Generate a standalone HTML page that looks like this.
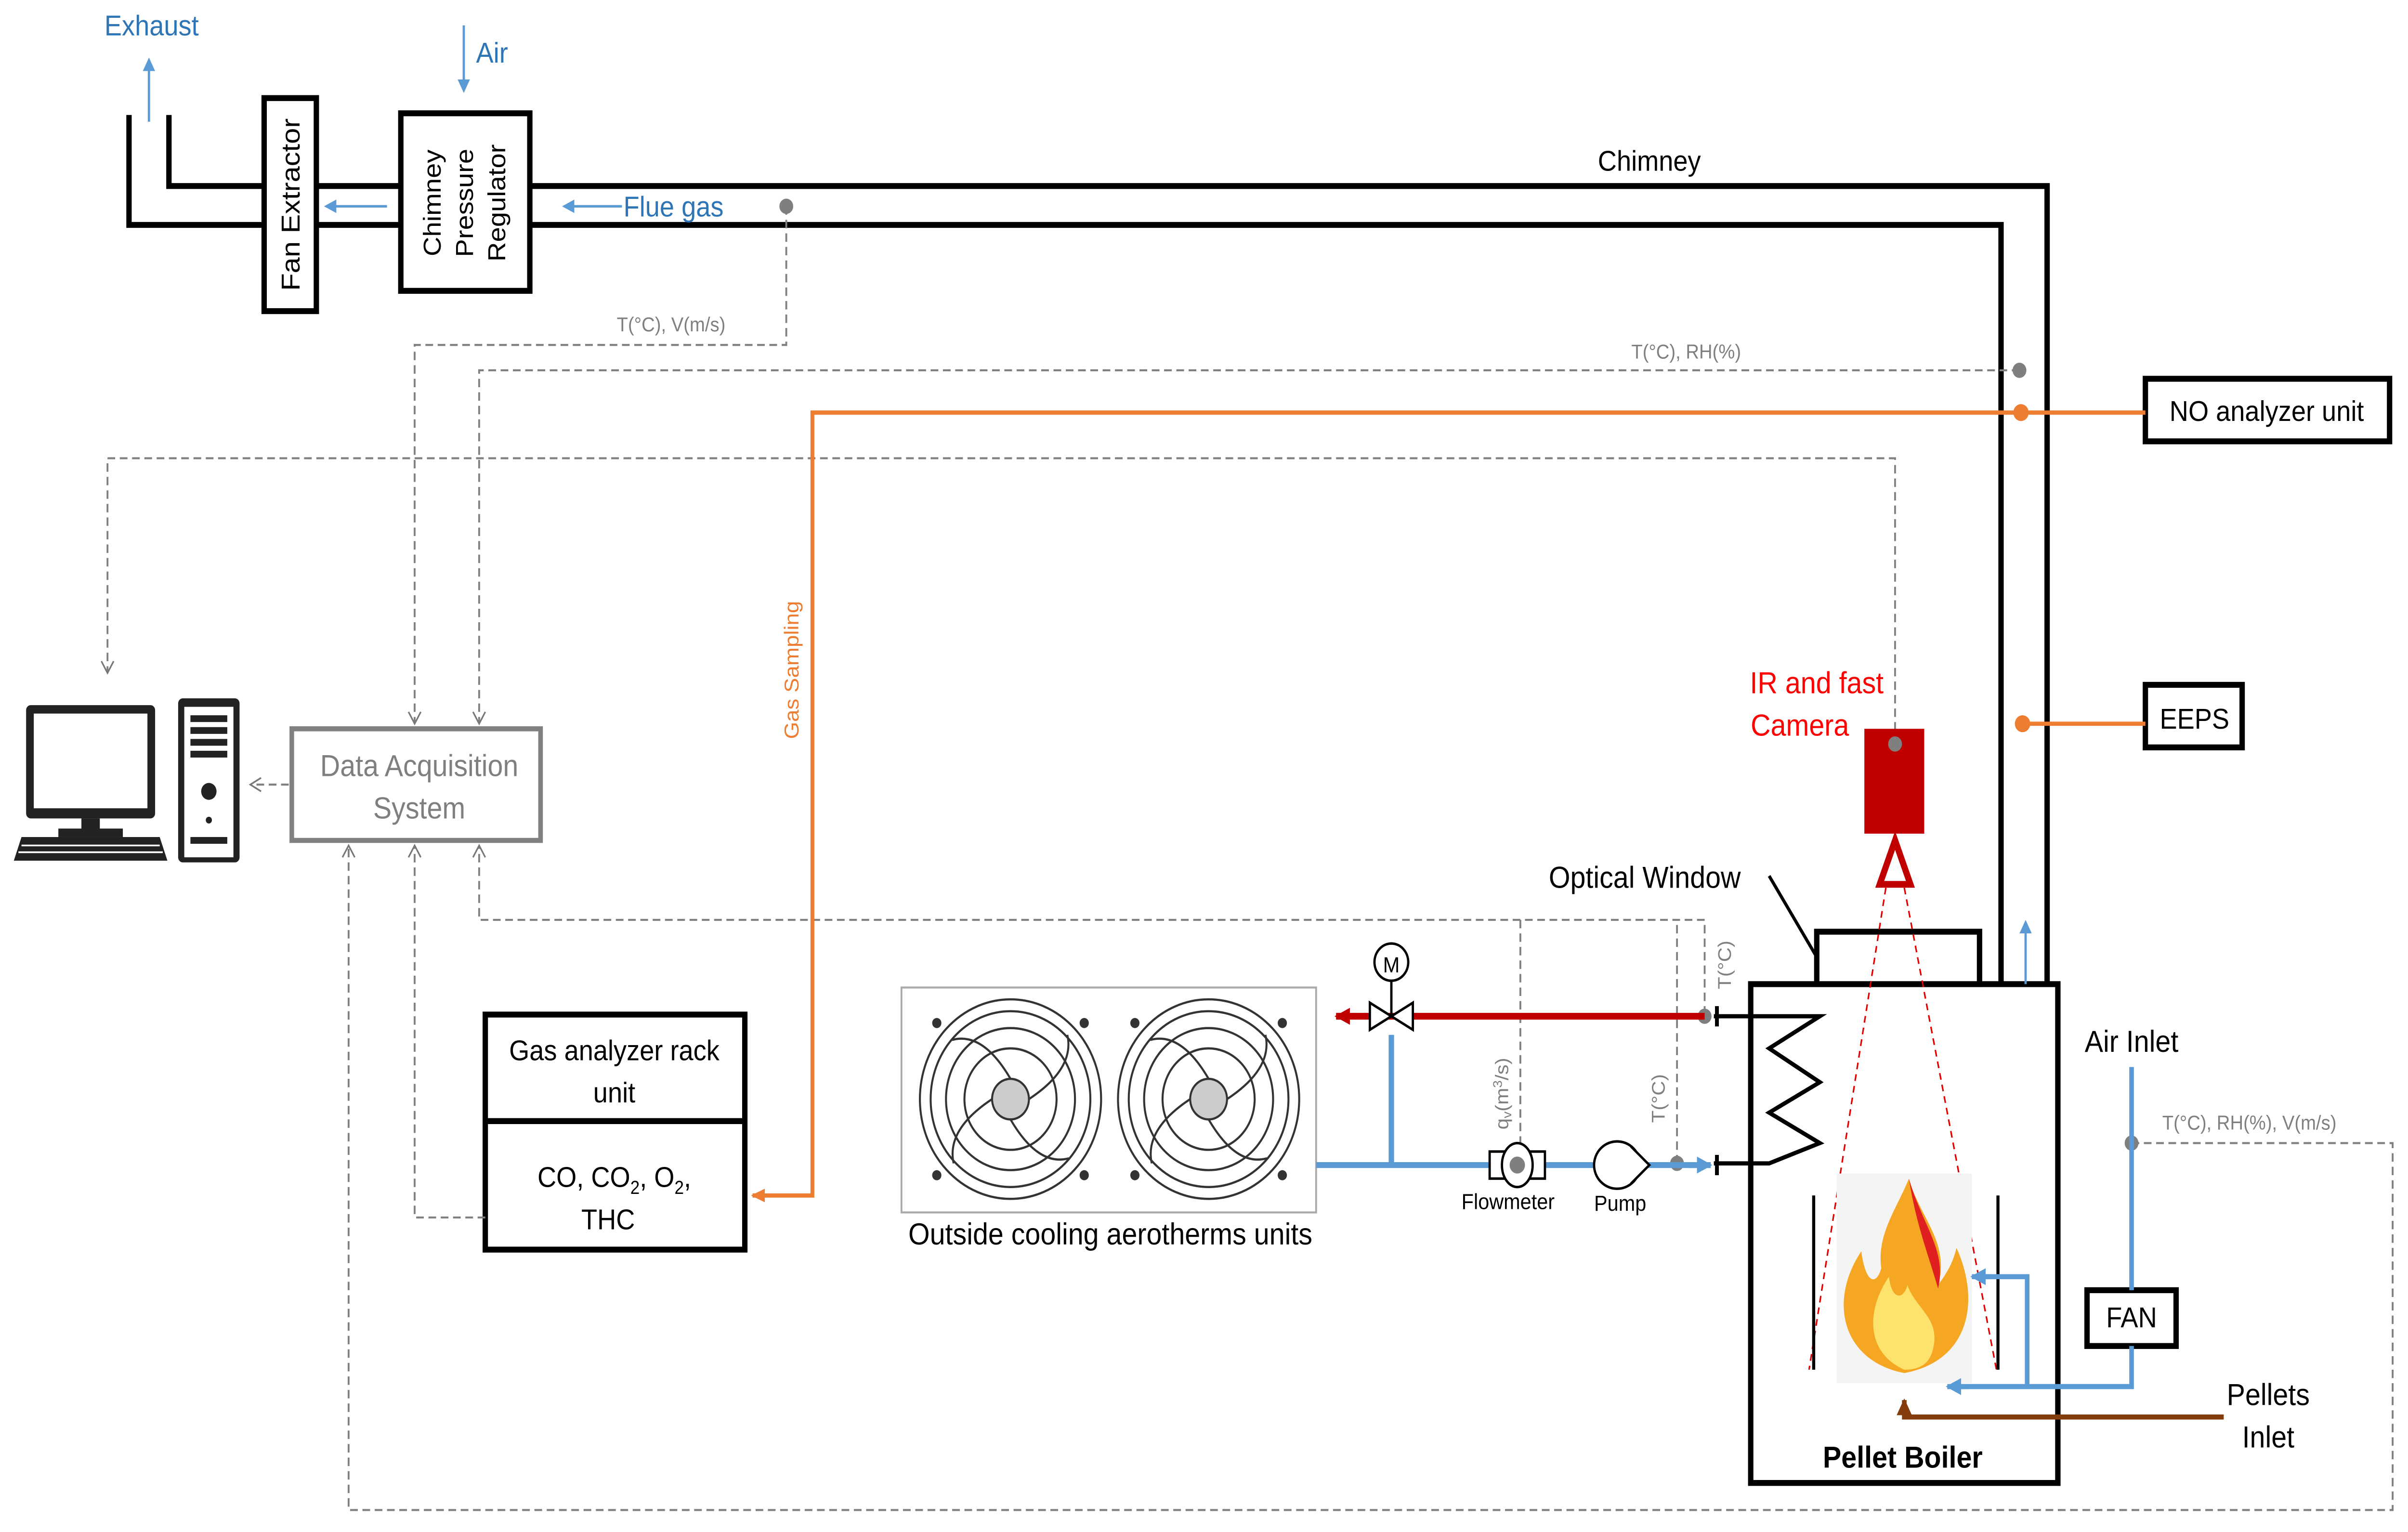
<!DOCTYPE html>
<html><head><meta charset="utf-8"><style>
html,body{margin:0;padding:0;background:#fff;width:100%;height:100%;overflow:hidden;}
svg{display:block;position:fixed;left:0;top:0;width:100vw;height:100vh;}
text{font-family:"Liberation Sans",sans-serif;}
</style></head><body>
<svg viewBox="0 0 1568 906" preserveAspectRatio="none" xmlns="http://www.w3.org/2000/svg">
<defs>
<marker id="ab" markerWidth="8" markerHeight="8" refX="6" refY="4" orient="auto" markerUnits="userSpaceOnUse"><path d="M0,0 L8,4 L0,8 z" fill="#5b9bd5"/></marker>
<marker id="ag" markerWidth="10" markerHeight="10" refX="8" refY="5" orient="auto" markerUnits="userSpaceOnUse"><path d="M1,1 L8,5 L1,9" fill="none" stroke="#777" stroke-width="1"/></marker>
<marker id="ao" markerWidth="10" markerHeight="10" refX="8" refY="5" orient="auto" markerUnits="userSpaceOnUse"><path d="M0,1 L9,5 L0,9 z" fill="#ed7d31"/></marker>
<marker id="ar" markerWidth="12" markerHeight="12" refX="9" refY="6" orient="auto" markerUnits="userSpaceOnUse"><path d="M0,1 L10,6 L0,11 z" fill="#c00000"/></marker>
<marker id="abr" markerWidth="12" markerHeight="12" refX="9" refY="6" orient="auto" markerUnits="userSpaceOnUse"><path d="M0,1 L10,6 L0,11 z" fill="#843c0c"/></marker>
<marker id="ab2" markerWidth="12" markerHeight="12" refX="9" refY="6" orient="auto" markerUnits="userSpaceOnUse"><path d="M0,1 L10,6 L0,11 z" fill="#5b9bd5"/></marker>
</defs>
<rect width="1568" height="906" fill="#fff"/>
<g fill="none" stroke="#000" stroke-width="3.5">
<path d="M84,68 V133 H1303 V582"/>
<path d="M110,68 V110 H1333 V582"/>
<rect x="172" y="58" width="34" height="126" fill="#fff"/>
<rect x="261" y="67" width="84" height="105" fill="#fff"/>
<rect x="1140" y="582" width="200" height="295"/>
<rect x="1183" y="551" width="106" height="31" fill="#fff"/>
<rect x="1397" y="224" width="159" height="37"/>
<rect x="1397" y="405" width="63" height="37"/>
<rect x="1359" y="763" width="58" height="33"/>
<rect x="316" y="600" width="169" height="139"/>
<line x1="316" y1="663" x2="485" y2="663"/>
</g>
<text x="189" y="121" font-size="17" text-anchor="middle" transform="rotate(-90 189 121)" dy="6">Fan Extractor</text>
<g font-size="16" text-anchor="middle">
<text transform="translate(282,120) rotate(-90)" dy="5">Chimney</text>
<text transform="translate(303,120) rotate(-90)" dy="5">Pressure</text>
<text transform="translate(324,120) rotate(-90)" dy="5">Regulator</text>
</g>
<text x="1074" y="101" font-size="17" text-anchor="middle">Chimney</text>
<text x="1476" y="249" font-size="17" text-anchor="middle">NO analyzer unit</text>
<text x="1429" y="431" font-size="17" text-anchor="middle">EEPS</text>
<text x="1388" y="785" font-size="17" text-anchor="middle">FAN</text>
<text x="400" y="627" font-size="17" text-anchor="middle">Gas analyzer rack</text>
<text x="400" y="652" font-size="17" text-anchor="middle">unit</text>
<text x="400" y="702" font-size="17" text-anchor="middle">CO, CO<tspan font-size="11" dy="4">2</tspan><tspan dy="-4">, O</tspan><tspan font-size="11" dy="4">2</tspan><tspan dy="-4">,</tspan></text>
<text x="396" y="727" font-size="17" text-anchor="middle">THC</text>
<g stroke="#5b9bd5" stroke-width="1.5" fill="none">
<line x1="97" y1="72" x2="97" y2="36" marker-end="url(#ab)"/>
<line x1="302" y1="15" x2="302" y2="53" marker-end="url(#ab)"/>
<line x1="252" y1="122" x2="213" y2="122" marker-end="url(#ab)"/>
<line x1="405" y1="122" x2="368" y2="122" marker-end="url(#ab)"/>
<line x1="1319" y1="582" x2="1319" y2="546" marker-end="url(#ab)"/>
</g>
<text x="68" y="21" font-size="17" fill="#2e75b6">Exhaust</text>
<text x="310" y="37" font-size="17" fill="#2e75b6">Air</text>
<text x="406" y="128" font-size="17" fill="#2e75b6">Flue gas</text>
<g stroke="#808080" stroke-width="1.2" fill="none" stroke-dasharray="5,3">
<path d="M512,122 V204 H270 V428" marker-end="url(#ag)"/>
<path d="M1315,219 H312 V428" marker-end="url(#ag)"/>
<path d="M1234,440 V271 H70 V398" marker-end="url(#ag)"/>
<path d="M188,464 H163" marker-end="url(#ag)"/>
<path d="M1110,600 V544 H312 V500" marker-end="url(#ag)"/>
<path d="M990,544 V688"/>
<path d="M1092,688 V544"/>
<path d="M316,720 H270 V500" marker-end="url(#ag)"/>
<path d="M1388,676 H1558 V893 H227 V500" marker-end="url(#ag)"/>
</g>
<g fill="#7f7f7f"><circle cx="512" cy="122" r="4.5"/><circle cx="1315" cy="219" r="4.5"/><circle cx="1234" cy="440" r="4.5"/><circle cx="1110" cy="601" r="4.5"/><circle cx="1092" cy="688" r="4.5"/><circle cx="1388" cy="676" r="4.5"/></g>
<g fill="#7f7f7f" font-size="12">
<text x="437" y="196" text-anchor="middle">T(°C), V(m/s)</text>
<text x="1098" y="212" text-anchor="middle">T(°C), RH(%)</text>
<text x="1408" y="668">T(°C), RH(%), V(m/s)</text>
<text transform="translate(1127,585) rotate(-90)">T(°C)</text>
<text transform="translate(1084,664) rotate(-90)">T(°C)</text>
<text transform="translate(982,668) rotate(-90)">q<tspan font-size="8" dy="2">v</tspan><tspan dy="-2">(m</tspan><tspan font-size="8" dy="-4">3</tspan><tspan dy="4">/s)</tspan></text>
</g>
<rect x="190" y="431" width="162" height="66" fill="#fff" stroke="#808080" stroke-width="3"/>
<text x="273" y="459" font-size="18" fill="#7f7f7f" text-anchor="middle">Data Acquisition</text>
<text x="273" y="484" font-size="18" fill="#7f7f7f" text-anchor="middle">System</text>
<g>
<rect x="17" y="417" width="84" height="67" rx="3" fill="#222"/>
<rect x="22" y="422" width="74" height="56" fill="#fff"/>
<rect x="53" y="484" width="12" height="8" fill="#222"/>
<rect x="38" y="490" width="42" height="5" fill="#222"/>
<path d="M14,495 H104 L109,509 H9 Z" fill="#222"/>
<g stroke="#fff" stroke-width="1"><line x1="14" y1="500" x2="104" y2="500"/><line x1="12" y1="504" x2="106" y2="504"/></g>
<rect x="116" y="413" width="40" height="97" rx="3" fill="#222"/>
<rect x="120" y="418" width="32" height="89" fill="#fff"/>
<g fill="#222"><rect x="124" y="423" width="24" height="4"/><rect x="124" y="430" width="24" height="4"/><rect x="124" y="437" width="24" height="4"/><rect x="124" y="444" width="24" height="4"/><circle cx="136" cy="468" r="5"/><circle cx="136" cy="485" r="2"/><rect x="124" y="495" width="24" height="4"/></g>
</g>
<g stroke="#ed7d31" stroke-width="2.5" fill="none">
<path d="M1397,244 H529 V707 H490" marker-end="url(#ao)"/>
<line x1="1397" y1="428" x2="1318" y2="428"/>
</g>
<circle cx="1316" cy="244" r="5" fill="#ed7d31"/><circle cx="1317" cy="428" r="5" fill="#ed7d31"/>
<text transform="translate(520,437) rotate(-90)" font-size="13" fill="#ed7d31">Gas Sampling</text>
<text x="1183" y="410" font-size="18" fill="#ff0000" text-anchor="middle">IR and fast</text>
<text x="1172" y="435" font-size="18" fill="#ff0000" text-anchor="middle">Camera</text>
<rect x="1214" y="431" width="39" height="62" fill="#c00000"/>
<circle cx="1234" cy="440" r="4.5" fill="#7f7f7f"/>
<path d="M1234,497 L1224,523 H1244 Z" fill="none" stroke="#c00000" stroke-width="4"/>
<g stroke="#e00000" stroke-width="1" stroke-dasharray="4,3" fill="none"><line x1="1228" y1="525" x2="1178" y2="810"/><line x1="1240" y1="525" x2="1300" y2="810"/></g>
<text x="1071" y="525" font-size="18" text-anchor="middle">Optical Window</text>
<path d="M1152,518 L1183,566" stroke="#000" stroke-width="2"/>
<rect x="587" y="584" width="270" height="133" fill="#fff" stroke="#aaa" stroke-width="1.2"/>
<g fill="none" stroke="#333" stroke-width="1.3">
<circle cx="658" cy="650" r="59"/><circle cx="658" cy="650" r="52"/><circle cx="658" cy="650" r="42"/><circle cx="658" cy="650" r="30"/><circle cx="658" cy="650" r="12" fill="#ccc"/>
<circle cx="787" cy="650" r="59"/><circle cx="787" cy="650" r="52"/><circle cx="787" cy="650" r="42"/><circle cx="787" cy="650" r="30"/><circle cx="787" cy="650" r="12" fill="#ccc"/>
<path d="M658,638 Q640,610 620,615 M670,650 Q700,632 695,612 M658,662 Q676,690 696,685 M646,650 Q616,668 621,688"/>
<path d="M787,638 Q769,610 749,615 M799,650 Q829,632 824,612 M787,662 Q805,690 825,685 M775,650 Q745,668 750,688"/>
</g>
<g fill="#333"><circle cx="610" cy="605" r="3"/><circle cx="706" cy="605" r="3"/><circle cx="610" cy="695" r="3"/><circle cx="706" cy="695" r="3"/><circle cx="739" cy="605" r="3"/><circle cx="835" cy="605" r="3"/><circle cx="739" cy="695" r="3"/><circle cx="835" cy="695" r="3"/></g>
<text x="723" y="736" font-size="18" text-anchor="middle">Outside cooling aerotherms units</text>
<line x1="1110" y1="601" x2="870" y2="601" stroke="#c00000" stroke-width="4" marker-end="url(#ar)"/>
<g stroke="#5b9bd5" stroke-width="3.5" fill="none">
<path d="M857,689 H1104"/>
<line x1="906" y1="612" x2="906" y2="689"/>
</g>
<line x1="1100" y1="689" x2="1114" y2="689" stroke="#5b9bd5" stroke-width="3.5" marker-end="url(#ab2)"/>
<g stroke="#000" stroke-width="1.5" fill="#fff">
<path d="M892,593 L920,609 L920,593 L892,609 Z"/>
<circle cx="906" cy="569" r="11"/>
<line x1="906" y1="580" x2="906" y2="601"/>
<rect x="970" y="681" width="36" height="16"/>
<ellipse cx="988" cy="689" rx="10" ry="13"/>
<ellipse cx="1053" cy="689" rx="15" ry="14"/>
<path d="M1062,678 L1074,689 L1062,700"/>
</g>
<text x="906" y="575" font-size="13" text-anchor="middle">M</text>
<circle cx="988" cy="689" r="5" fill="#7f7f7f"/>
<text x="982" y="715" font-size="13" text-anchor="middle">Flowmeter</text>
<text x="1055" y="716" font-size="13" text-anchor="middle">Pump</text>
<g stroke="#000" stroke-width="2.5" fill="none">
<path d="M1116,601 H1185 L1152,620 L1185,640 L1152,658 L1185,676 L1152,688 H1116"/>
<line x1="1118" y1="595" x2="1118" y2="607"/><line x1="1118" y1="683" x2="1118" y2="695"/>
<line x1="1181" y1="707" x2="1181" y2="810" stroke-width="2"/><line x1="1301" y1="707" x2="1301" y2="810" stroke-width="2"/>
</g>
<rect x="1196" y="694" width="88" height="124" fill="#f4f4f4"/>
<path d="M1240,812 C1200,805 1190,770 1212,740 C1215,760 1222,760 1225,750 C1222,730 1235,715 1243,697 C1250,720 1270,735 1262,760 C1270,750 1272,745 1274,738 C1290,770 1282,805 1240,812 Z" fill="#f5a623"/>
<path d="M1240,810 C1215,800 1215,775 1230,755 C1232,770 1240,768 1242,760 C1248,775 1265,780 1258,800 C1255,808 1248,810 1240,810 Z" fill="#fde26b"/>
<path d="M1243,697 C1252,725 1268,740 1262,762 C1255,740 1248,725 1243,697 Z" fill="#e02020"/>
<g stroke="#5b9bd5" stroke-width="3" fill="none">
<line x1="1388" y1="631" x2="1388" y2="763"/>
<path d="M1388,796 V820 H1270"/>
<path d="M1320,820 V755 H1290"/>
</g>
<line x1="1280" y1="820" x2="1268" y2="820" stroke="#5b9bd5" stroke-width="3" marker-end="url(#ab2)"/>
<line x1="1296" y1="755" x2="1284" y2="755" stroke="#5b9bd5" stroke-width="3" marker-end="url(#ab2)"/>
<path d="M1448,838 H1240 V828" stroke="#843c0c" stroke-width="3" fill="none" marker-end="url(#abr)"/>
<text x="1388" y="622" font-size="18" text-anchor="middle">Air Inlet</text>
<text x="1477" y="831" font-size="18" text-anchor="middle">Pellets</text>
<text x="1477" y="856" font-size="18" text-anchor="middle">Inlet</text>
<text x="1239" y="868" font-size="18" font-weight="bold" text-anchor="middle">Pellet Boiler</text>
</svg>
</body></html>
